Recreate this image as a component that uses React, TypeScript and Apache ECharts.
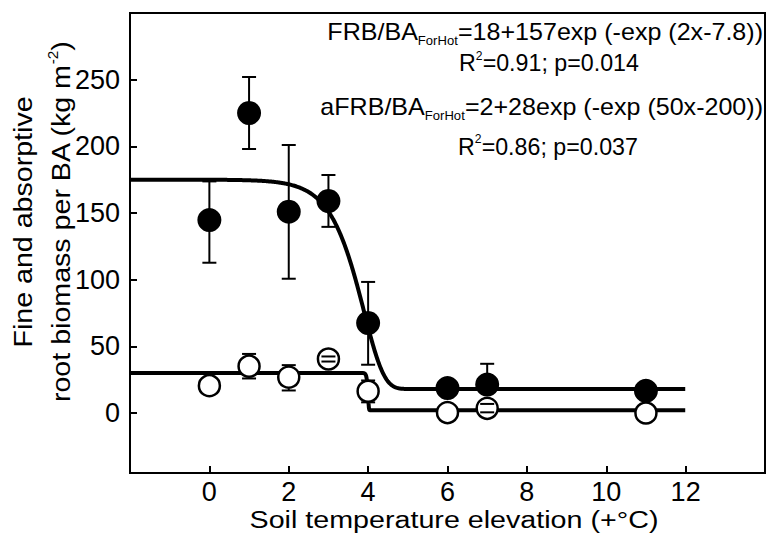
import { useEffect, useRef } from "react";
import * as echarts from "echarts";

// ---- data ----
const xTicks = [0, 2, 4, 6, 8, 10, 12];
const yTicks = [0, 50, 100, 150, 200, 250];

// FRB (filled circles): x, mean, lower and upper error bar ends
const frbX = [0, 1, 2, 3, 4, 6, 7, 11];
const frbY = [144.7, 225, 151, 159, 67.5, 18.7, 21.3, 16.6];
const frbLow = [112.7, 198, 100.7, 139.6, 36.2, null, 15.7, null];
const frbHigh = [173.7, 252, 201, 178.5, 98.3, null, 36.9, null];

// aFRB (open circles)
const afrbX = [0, 1, 2, 3, 4, 6, 7, 11];
const afrbY = [20.5, 35.1, 26.9, 40.5, 16.3, 0.3, 3.5, 0];
const afrbLow = [null, 25.9, 16.9, 38.6, 8.0, null, 0.5, null];
const afrbHigh = [null, 44.3, 35.9, 42.4, 24.4, null, 6.8, null];

// fitted models printed on the chart: y = a + b*exp(-exp(c*x - d))
const frbFit = [18, 157, 2, 7.8];
const afrbFit = [2, 28, 50, 200];
const fitRange = [-2, 12];

const FONT = "'Liberation Sans', Arial, Helvetica, sans-serif";

function fitLine(p: number[]) {
  const out: number[][] = [];
  const n = Math.round((fitRange[1] - fitRange[0]) * 100);
  for (let i = 0; i <= n; i++) {
    const x = fitRange[0] + i / 100;
    out.push([x, p[0] + p[1] * Math.exp(-Math.exp(p[2] * x - p[3]))]);
  }
  return out;
}

function errData(xs: number[], ys: number[], lo: (number | null)[], hi: (number | null)[]) {
  const d: number[][] = [];
  xs.forEach((x, i) => {
    if (lo[i] != null && hi[i] != null) d.push([x, ys[i], lo[i] as number, hi[i] as number]);
  });
  return d;
}

function makeErr(r: number) {
  return (_params: any, api: any) => {
    const x = api.value(0), y = api.value(1), lo = api.value(2), hi = api.value(3);
    const c = api.coord([x, y]);
    const pl = api.coord([x, lo]);
    const ph = api.coord([x, hi]);
    const hw = 7;
    const st = { stroke: "#000", lineWidth: 2 };
    const ch: any[] = [];
    if (ph[1] < c[1] - r) ch.push({ type: "line", shape: { x1: c[0], y1: c[1] - r, x2: c[0], y2: ph[1] }, style: st });
    if (pl[1] > c[1] + r) ch.push({ type: "line", shape: { x1: c[0], y1: c[1] + r, x2: c[0], y2: pl[1] }, style: st });
    ch.push({ type: "line", shape: { x1: ph[0] - hw, y1: ph[1], x2: ph[0] + hw, y2: ph[1] }, style: st });
    ch.push({ type: "line", shape: { x1: pl[0] - hw, y1: pl[1], x2: pl[0] + hw, y2: pl[1] }, style: st });
    return { type: "group", children: ch };
  };
}

const mainRich = (fs: number, lh: number) => ({
  m: { fontSize: fs, lineHeight: lh, fontFamily: FONT, fill: "#000", color: "#000" },
  sub: { fontSize: 12, lineHeight: 12, padding: [18, 0, 0, 0], verticalAlign: "middle", fontFamily: FONT, fill: "#000", color: "#000" },
  sup: { fontSize: 12, lineHeight: 12, padding: [0, 0, 15, 0], verticalAlign: "middle", fontFamily: FONT, fill: "#000", color: "#000" },
});

export default function App() {
  const ref = useRef<HTMLDivElement>(null);
  useEffect(() => {
    if (!ref.current) return;
    const chart = echarts.init(ref.current, null, { renderer: "svg" });
    const option: any = {
      animation: false,
      grid: { left: 130, right: 1, top: 13, bottom: 60, show: true, borderColor: "#000", borderWidth: 2, backgroundColor: "transparent" },
      xAxis: {
        type: "value", min: -2, max: 14, interval: 2,
        axisLine: { show: true, onZero: false, lineStyle: { color: "#000", width: 2 } },
        axisTick: { show: true, inside: true, length: 7, customValues: xTicks, lineStyle: { color: "#000", width: 2 } },
        axisLabel: { customValues: xTicks, fontSize: 27, color: "#000", fontFamily: FONT, margin: 5 },
        splitLine: { show: false },
      },
      yAxis: {
        type: "value", min: -45, max: 300,
        axisLine: { show: true, onZero: false, lineStyle: { color: "#000", width: 2 } },
        axisTick: { show: true, inside: true, length: 7, customValues: yTicks, lineStyle: { color: "#000", width: 2 } },
        axisLabel: { customValues: yTicks, fontSize: 27, color: "#000", fontFamily: FONT, margin: 10 },
        splitLine: { show: false },
      },
      series: [
        { type: "line", data: fitLine(frbFit), showSymbol: false, symbol: "none", silent: true, z: 2,
          lineStyle: { color: "#000", width: 4, join: "round" } },
        { type: "line", data: fitLine(afrbFit), showSymbol: false, symbol: "none", silent: true, z: 2,
          lineStyle: { color: "#000", width: 4, join: "round" } },
        { type: "custom", renderItem: makeErr(0), data: errData(frbX, frbY, frbLow, frbHigh),
          encode: { x: 0, y: [1, 2, 3] }, z: 3, silent: true, clip: false },
        { type: "scatter", data: frbX.map((x, i) => [x, frbY[i]]), symbol: "circle", symbolSize: 24, z: 4,
          itemStyle: { color: "#000", opacity: 1 }, silent: true },
        { type: "scatter", data: afrbX.map((x, i) => [x, afrbY[i]]), symbol: "circle", symbolSize: 21, z: 5,
          itemStyle: { color: "#fff", borderColor: "#000", borderWidth: 2.5, opacity: 1 }, silent: true },
        { type: "custom", renderItem: makeErr(11.5), data: errData(afrbX, afrbY, afrbLow, afrbHigh),
          encode: { x: 0, y: [1, 2, 3] }, z: 6, silent: true, clip: false },
      ],
      graphic: [
        { type: "text", x: 763, y: 31.7, scaleX: 1.09, silent: true,
          style: { text: "{m|FRB/BA}{sub|ForHot}{m|=18+157exp (-exp (2x-7.8))}", rich: mainRich(23, 26),
            align: "right", verticalAlign: "middle", fill: "#000" } },
        { type: "text", x: 549, y: 63.3, scaleX: 1.01, silent: true,
          style: { text: "{m|R}{sup|2}{m|=0.91; p=0.014}", rich: mainRich(23, 26),
            align: "center", verticalAlign: "middle", fill: "#000" } },
        { type: "text", x: 763, y: 106.7, scaleX: 1.09, silent: true,
          style: { text: "{m|aFRB/BA}{sub|ForHot}{m|=2+28exp (-exp (50x-200))}", rich: mainRich(23, 26),
            align: "right", verticalAlign: "middle", fill: "#000" } },
        { type: "text", x: 548, y: 146.7, scaleX: 1.01, silent: true,
          style: { text: "{m|R}{sup|2}{m|=0.86; p=0.037}", rich: mainRich(23, 26),
            align: "center", verticalAlign: "middle", fill: "#000" } },
        { type: "text", x: 454, y: 519.5, scaleX: 1.17, silent: true,
          style: { text: "Soil temperature elevation (+°C)", fontSize: 24.5, fontFamily: FONT, fill: "#000",
            align: "center", verticalAlign: "middle" } },
        { type: "text", x: 42, y: 222, rotation: Math.PI / 2, scaleX: 1.1, silent: true,
          style: {
            text: "{m|Fine and absorptive}\n{m|root biomass per BA (kg m}{p|-2}{m|)}",
            rich: {
              m: { fontSize: 26, lineHeight: 38, fontFamily: FONT, fill: "#000" },
              p: { fontSize: 14, lineHeight: 14, padding: [0, 0, 15, 0], verticalAlign: "middle", fontFamily: FONT, fill: "#000" },
            },
            align: "center", verticalAlign: "middle", fill: "#000",
          } },
      ],
    };
    chart.setOption(option);
    return () => chart.dispose();
  }, []);
  return (
    <div
      ref={ref}
      style={{ position: "fixed", left: 0, top: 0, width: 766, height: 533, background: "#fff" }}
    />
  );
}
